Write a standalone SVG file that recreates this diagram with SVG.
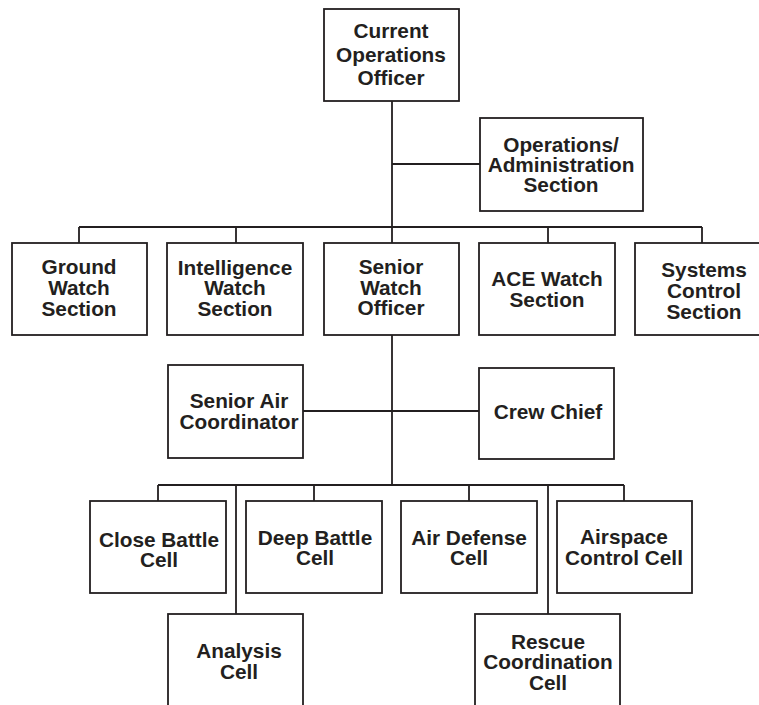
<svg xmlns="http://www.w3.org/2000/svg" width="759" height="705" viewBox="0 0 759 705">
<style>
.box{fill:#fff;stroke:#231f20;stroke-width:1.8}
.ln{fill:none;stroke:#231f20;stroke-width:1.8}
text{font-family:"Liberation Sans",Arial,Helvetica,sans-serif;font-weight:bold;font-size:20.8px;fill:#231f20;text-anchor:middle}
</style>
<rect width="759" height="705" fill="#fff"/>
<g id="connectors">
<path class="ln" d="M392,101V243M392,164H480M79,227H702M79,227V243M236,227V243M548,227V243M702,227V243M392,335V485M303,411H479M158,485H624M158,485V501M314,485V501M469,485V501M624,485V501M236,485V614M548,485V614"/>
</g>
<g id="current-operations-officer">
<rect class="box" x="324" y="9" width="135" height="92"/>
<text x="391" y="38">Current</text>
<text x="391" y="61.5">Operations</text>
<text x="391" y="84.5">Officer</text>
</g>
<g id="operations-administration-section">
<rect class="box" x="480" y="118" width="163" height="93"/>
<text x="561" y="152">Operations/</text>
<text x="561" y="172">Administration</text>
<text x="561" y="192">Section</text>
</g>
<g id="ground-watch-section">
<rect class="box" x="12" y="243" width="135" height="92"/>
<text x="79" y="274">Ground</text>
<text x="79" y="295">Watch</text>
<text x="79" y="316">Section</text>
</g>
<g id="intelligence-watch-section">
<rect class="box" x="167" y="243" width="136" height="92"/>
<text x="235" y="274.5">Intelligence</text>
<text x="235" y="295">Watch</text>
<text x="235" y="316">Section</text>
</g>
<g id="senior-watch-officer">
<rect class="box" x="324" y="243" width="135" height="92"/>
<text x="391" y="274">Senior</text>
<text x="391" y="294.5">Watch</text>
<text x="391" y="315">Officer</text>
</g>
<g id="ace-watch-section">
<rect class="box" x="479" y="243" width="136" height="92"/>
<text x="547" y="285.5">ACE Watch</text>
<text x="547" y="306.5">Section</text>
</g>
<g id="systems-control-section">
<rect class="box" x="635" y="243" width="135" height="92"/>
<text x="704" y="276.5">Systems</text>
<text x="704" y="297.5">Control</text>
<text x="704" y="318.5">Section</text>
</g>
<g id="senior-air-coordinator">
<rect class="box" x="168" y="365" width="135" height="93"/>
<text x="239" y="408">Senior Air</text>
<text x="239" y="428.5">Coordinator</text>
</g>
<g id="crew-chief">
<rect class="box" x="479" y="368" width="135" height="91"/>
<text x="548" y="418.5">Crew Chief</text>
</g>
<g id="close-battle-cell">
<rect class="box" x="90" y="501" width="136" height="92"/>
<text x="159" y="546.5">Close Battle</text>
<text x="159" y="566.5">Cell</text>
</g>
<g id="deep-battle-cell">
<rect class="box" x="246" y="501" width="136" height="92"/>
<text x="315" y="545">Deep Battle</text>
<text x="315" y="565">Cell</text>
</g>
<g id="air-defense-cell">
<rect class="box" x="401" y="501" width="136" height="92"/>
<text x="469" y="545">Air Defense</text>
<text x="469" y="565">Cell</text>
</g>
<g id="airspace-control-cell">
<rect class="box" x="557" y="501" width="135" height="92"/>
<text x="624" y="543.5">Airspace</text>
<text x="624" y="564.5">Control Cell</text>
</g>
<g id="analysis-cell">
<rect class="box" x="168" y="614" width="135" height="110"/>
<text x="239" y="657.5">Analysis</text>
<text x="239" y="678.5">Cell</text>
</g>
<g id="rescue-coordination-cell">
<rect class="box" x="475" y="614" width="145" height="110"/>
<text x="548" y="649">Rescue</text>
<text x="548" y="669">Coordination</text>
<text x="548" y="689.5">Cell</text>
</g>
</svg>
